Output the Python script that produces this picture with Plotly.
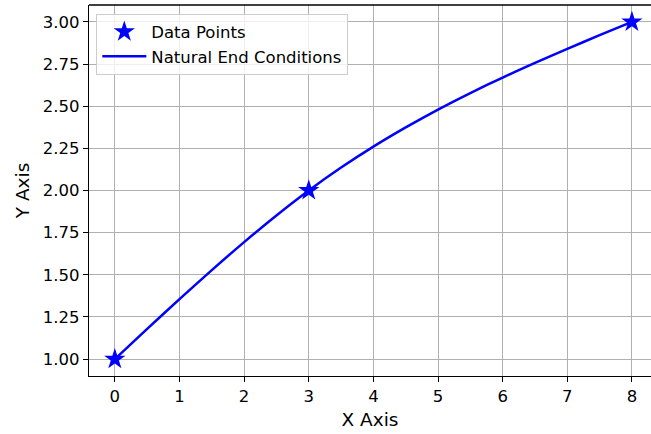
import plotly.graph_objects as go

# Data points
data_x = [0, 3, 8]
data_y = [1.0, 2.0, 3.0]

# Curve values (natural end conditions curve)
curve_x = [0, 0.5, 1, 1.5, 2, 2.5, 3, 3.5, 4, 4.5, 5, 5.5, 6, 6.5, 7, 7.5, 8]
curve_y = [1.0, 1.179, 1.356, 1.528, 1.694, 1.852, 2.0, 2.136, 2.26, 2.374,
           2.48, 2.578, 2.67, 2.757, 2.84, 2.921, 3.0]

x_ticks = [0, 1, 2, 3, 4, 5, 6, 7, 8]
y_ticks = [1.00, 1.25, 1.50, 1.75, 2.00, 2.25, 2.50, 2.75, 3.00]

fig = go.Figure()
fig.add_trace(go.Scatter(
    x=curve_x, y=curve_y, mode="lines", name="Natural End Conditions",
    line=dict(color="blue", width=2.5, shape="spline", smoothing=0.6),
    showlegend=True,
))
fig.add_trace(go.Scatter(
    x=data_x, y=data_y, mode="markers", name="Data Points",
    marker=dict(symbol="star", size=16, color="blue", line=dict(width=0)),
))

axis_common = dict(
    showgrid=True, gridcolor="#b0b0b0", gridwidth=1,
    zeroline=False, showline=True, linecolor="black", linewidth=1.3,
    ticks="outside", ticklen=5, tickwidth=1.3, tickcolor="black",
    tickfont=dict(size=16.5, color="black"), automargin=False,
)

fig.update_layout(
    width=651, height=434,
    margin=dict(l=89, r=0, t=5, b=58),
    paper_bgcolor="white", plot_bgcolor="white",
    font=dict(family="DejaVu Sans", color="black"),
    xaxis=dict(range=[-0.4, 8.295], tickvals=x_ticks,
               ticktext=[str(v) for v in x_ticks],
               title=dict(text="X Axis", font=dict(size=18.5), standoff=8),
               mirror=False, **axis_common),
    yaxis=dict(range=[0.9, 3.1], tickvals=y_ticks,
               ticktext=[f"{v:.2f}" for v in y_ticks],
               title=dict(text="Y Axis", font=dict(size=18.5), standoff=8),
               mirror=False, **axis_common),
    legend=dict(x=0.013, y=0.977, xanchor="left", yanchor="top",
                bgcolor="rgba(255,255,255,0.8)", bordercolor="#cccccc",
                borderwidth=1, font=dict(size=16.5), traceorder="reversed",
                tracegroupgap=0, itemwidth=44),
    showlegend=True,
)
# top spine
fig.add_shape(type="line", xref="paper", yref="paper", x0=0, x1=1, y0=1, y1=1,
              line=dict(color="black", width=1.3))

fig.write_html("out.html", config={"displayModeBar": False},
               post_script="document.body.style.margin='0';document.body.style.overflow='hidden';")
